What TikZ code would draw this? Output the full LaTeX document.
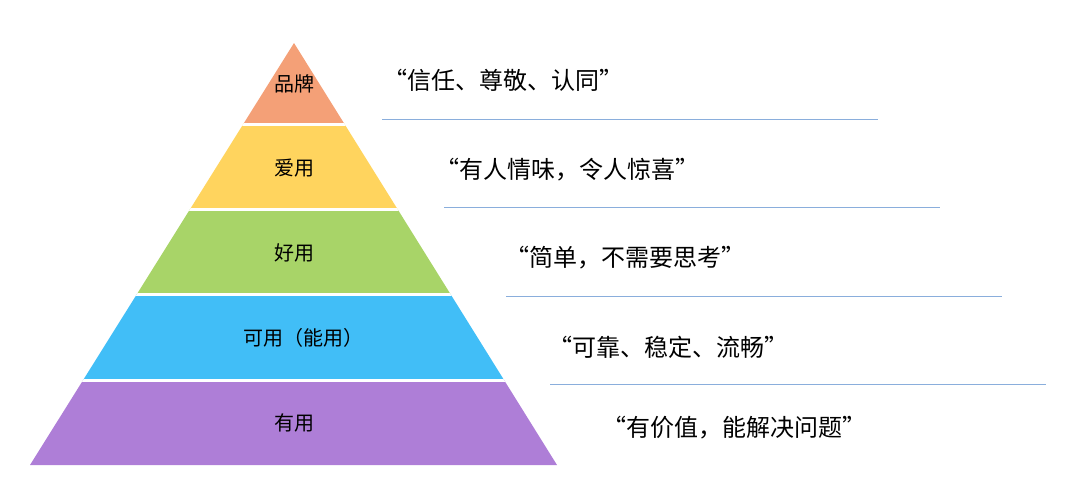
\documentclass[tikz,border=0pt]{standalone}
\usepackage{fontspec}
\setmainfont{Noto Sans CJK SC}
\begin{document}
\begin{tikzpicture}[x=1pt,y=-1pt,
  lbl/.style={font=\fontsize{20}{24}\selectfont,text=black},
  quote/.style={font=\fontsize{24}{28}\selectfont,text=black,anchor=west},
  rule/.style={draw=black!10!blue!40!cyan!60,line width=0.8pt}]
\useasboundingbox (0,0) rectangle (1080,493);
\definecolor{c1}{HTML}{F4A077}
\definecolor{c2}{HTML}{FFD45E}
\definecolor{c3}{HTML}{A8D468}
\definecolor{c4}{HTML}{41BEF7}
\definecolor{c5}{HTML}{AE7ED7}
\definecolor{ln}{HTML}{8AAEDC}
\begin{scope}
\clip (294,43) -- (557,465) -- (30,465) -- cycle;
\fill[c1] (0,0) rectangle (1080,123);
\fill[c2] (0,123) rectangle (1080,209);
\fill[c3] (0,209) rectangle (1080,294);
\fill[c4] (0,294) rectangle (1080,380);
\fill[c5] (0,380) rectangle (1080,470);
\foreach \y in {124,209,294,380} \draw[white,line width=3pt] (0,\y) -- (1080,\y);
\end{scope}
\node[lbl] (l1) at (294,84) {品牌};
\node[lbl] (l2) at (294,168) {爱用};
\node[lbl] (l3) at (294,253) {好用};
\node[lbl] (l4) at (303,338) {可用（能用）};
\node[lbl] (l5) at (294,423) {有用};
\node[quote] (q1) at (380,80) {“信任、尊敬、认同”};
\node[quote] (q2) at (432,170) {“有人情味，令人惊喜”};
\node[quote] (q3) at (502,258) {“简单，不需要思考”};
\node[quote] (q4) at (545,347) {“可靠、稳定、流畅”};
\node[quote] (q5) at (599,428) {“有价值，能解决问题”};
\draw[draw=ln,line width=0.8pt] (382,119) -- (878,119);
\draw[draw=ln,line width=0.8pt] (444,207) -- (940,207);
\draw[draw=ln,line width=0.8pt] (506,296) -- (1002,296);
\draw[draw=ln,line width=0.8pt] (550,384) -- (1046,384);
\end{tikzpicture}
\end{document}
